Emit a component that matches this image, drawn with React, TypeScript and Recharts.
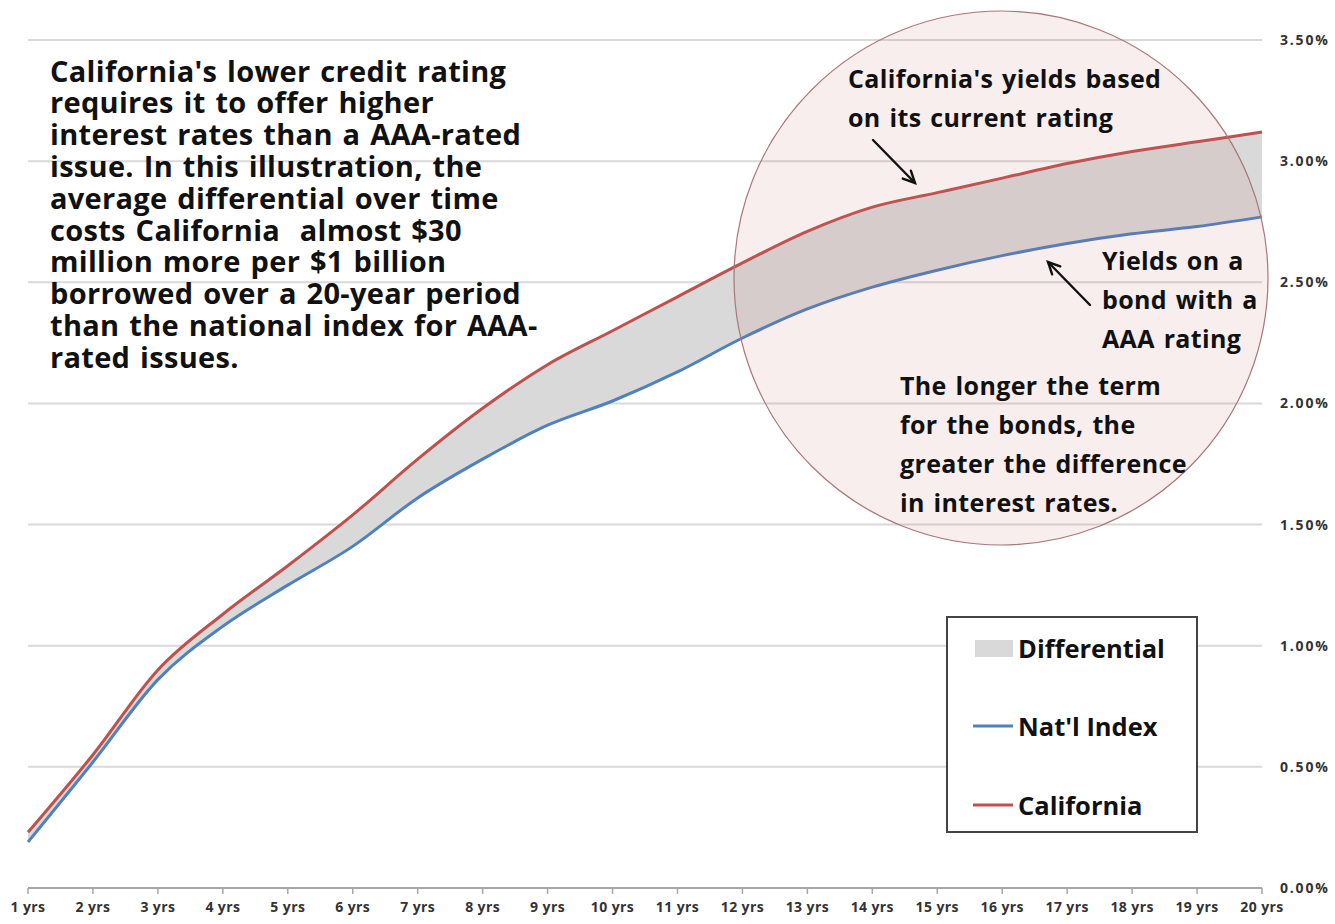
import React from 'react';
import { Area, CartesianGrid, ComposedChart, Line, XAxis, YAxis } from 'recharts';

const terms = [
  '1 yrs', '2 yrs', '3 yrs', '4 yrs', '5 yrs', '6 yrs', '7 yrs', '8 yrs', '9 yrs', '10 yrs',
  '11 yrs', '12 yrs', '13 yrs', '14 yrs', '15 yrs', '16 yrs', '17 yrs', '18 yrs', '19 yrs', '20 yrs',
];
const california = [0.23, 0.55, 0.9, 1.13, 1.33, 1.54, 1.77, 1.98, 2.16, 2.3, 2.44, 2.58, 2.71, 2.81, 2.87, 2.93, 2.99, 3.04, 3.08, 3.12];
const natlIndex = [0.19, 0.52, 0.86, 1.08, 1.25, 1.41, 1.61, 1.77, 1.91, 2.01, 2.13, 2.27, 2.39, 2.48, 2.55, 2.61, 2.66, 2.7, 2.73, 2.77];
const yTicks = [0, 0.5, 1, 1.5, 2, 2.5, 3, 3.5];

const introLines = [
  "California's lower credit rating",
  'requires it to offer higher',
  'interest rates than a AAA-rated',
  'issue. In this illustration, the',
  'average differential over time',
  'costs California  almost $30',
  'million more per $1 billion',
  'borrowed over a 20-year period',
  'than the national index for AAA-',
  'rated issues.',
];
const caNote = ["California's yields based", 'on its current rating'];
const aaaNote = ['Yields on a', 'bond with a', 'AAA rating'];
const termNote = ['The longer the term', 'for the bonds, the', 'greater the difference', 'in interest rates.'];

const W = 1335;
const H = 924;
const FONT = '"Open Sans", Lato, sans-serif';
const RED = '#c0504d';
const BLUE = '#4f81bd';
const GREY = '#d9d9d9';

const rows = terms.map((term, i) => ({
  term,
  ca: california[i],
  nat: natlIndex[i],
  diff: [natlIndex[i], california[i]],
}));

const pct = (v: number) => `${v.toFixed(2)}%`;

function Arrow({ x1, y1, x2, y2 }: { x1: number; y1: number; x2: number; y2: number }) {
  const a = Math.atan2(y2 - y1, x2 - x1);
  const L = 13;
  const s = 0.45;
  const p1 = [x2 - L * Math.cos(a - s), y2 - L * Math.sin(a - s)];
  const p2 = [x2 - L * Math.cos(a + s), y2 - L * Math.sin(a + s)];
  return (
    <g stroke="#111" strokeWidth={2.4} fill="none" strokeLinecap="round">
      <line x1={x1} y1={y1} x2={x2} y2={y2} />
      <polyline points={`${p1[0]},${p1[1]} ${x2},${y2} ${p2[0]},${p2[1]}`} />
    </g>
  );
}

type BlockProps = { lines: string[]; x: number; y: number; step: number; size: number; spacing?: number; words?: number };

function TextBlock({ lines, x, y, step, size, spacing = 0, words = 0 }: BlockProps) {
  return (
    <g fontFamily={FONT} fontWeight={700} fontSize={size} fill="#111" letterSpacing={spacing} wordSpacing={words}>
      {lines.map((t, i) => (
        <text key={i} x={x} y={y + i * step} dominantBaseline="central" style={{ whiteSpace: 'pre' }}>
          {t}
        </text>
      ))}
    </g>
  );
}

export default function App() {
  return (
    <div style={{ position: 'absolute', left: 0, top: 0, width: W, height: H, background: '#fff' }}>
      <ComposedChart width={W} height={H} data={rows} margin={{ top: 40, right: 0, left: 28, bottom: 0 }}>
        <CartesianGrid horizontal vertical={false} stroke={GREY} strokeWidth={2} />
        <XAxis
          dataKey="term"
          interval={0}
          height={36}
          padding={{ left: 0, right: 0 }}
          axisLine={{ stroke: '#a6a6a6', strokeWidth: 2 }}
          tickLine={{ stroke: '#a6a6a6', strokeWidth: 1.5 }}
          tickSize={6}
          tickMargin={8}
          tick={{ fontFamily: FONT, fontWeight: 700, fontSize: 14, fill: '#333', letterSpacing: 0.4 }}
        />
        <YAxis
          orientation="right"
          width={73}
          domain={[0, 3.5]}
          ticks={yTicks}
          tickFormatter={pct}
          axisLine={false}
          tickLine={false}
          tickMargin={12}
          tick={{ fontFamily: FONT, fontWeight: 700, fontSize: 14, fill: '#333', letterSpacing: 1.8 }}
        />
        <Area type="monotone" dataKey="diff" stroke="none" fill={GREY} fillOpacity={1} isAnimationActive={false} />
        <Line type="monotone" dataKey="nat" stroke={BLUE} strokeWidth={3} dot={false} isAnimationActive={false} />
        <Line type="monotone" dataKey="ca" stroke={RED} strokeWidth={3} dot={false} isAnimationActive={false} />
      </ComposedChart>

      <svg width={W} height={H} style={{ position: 'absolute', left: 0, top: 0, pointerEvents: 'none' }}>
        <TextBlock lines={introLines} x={50} y={70} step={31.8} size={29} spacing={0.3} words={2} />

        {/* highlight circle over the long end of the curve */}
        <circle cx={1001} cy={278} r={267} fill="rgba(190,100,100,0.11)" stroke="#a87878" strokeWidth={1.2} />
        <TextBlock lines={caNote} x={848} y={78} step={39} size={25} spacing={0.35} words={2} />
        <TextBlock lines={aaaNote} x={1102} y={260} step={39} size={25} spacing={0.35} words={2} />
        <TextBlock lines={termNote} x={900} y={385} step={39} size={25} spacing={0.35} words={2} />
        <Arrow x1={873} y1={140} x2={915} y2={183} />
        <Arrow x1={1090} y1={305} x2={1048} y2={262} />

        {/* legend */}
        <rect x={947} y={617} width={250} height={215} fill="#fff" stroke="#444" strokeWidth={2} />
        <rect x={975} y={640} width={38} height={17} fill={GREY} />
        <line x1={973} y1={726} x2={1013} y2={726} stroke={BLUE} strokeWidth={3} />
        <line x1={973} y1={805} x2={1013} y2={805} stroke={RED} strokeWidth={3} />
        <g fontFamily={FONT} fontWeight={700} fontSize={25.5} fill="#111">
          <text x={1018} y={648} dominantBaseline="central">Differential</text>
          <text x={1018} y={726} dominantBaseline="central">Nat'l Index</text>
          <text x={1018} y={805} dominantBaseline="central">California</text>
        </g>
      </svg>
    </div>
  );
}
